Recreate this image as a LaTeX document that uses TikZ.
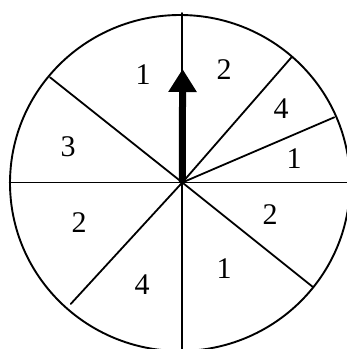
\documentclass[tikz,border=0pt]{standalone}
\usepackage{fontspec}
\setmainfont{Liberation Serif}
\usetikzlibrary{arrows.meta}
\begin{document}
\begin{tikzpicture}[x=1pt,y=-1pt,
  spoke/.style={line width=1.8pt,line cap=round},
  rim/.style={line width=1.9pt},
  num/.style={font=\fontsize{30}{30}\selectfont,inner sep=0pt},
  pointer/.style={line width=7pt,-{Triangle[width=27pt,length=23pt]}}]
\useasboundingbox (0,0) rectangle (347,349);
\clip (0,0) rectangle (347,349);
\fill[white] (0,0) rectangle (347,349);
\coordinate (c) at (182.3,182.5);
\coordinate (top) at (182.3,13);
\coordinate (bot) at (182.3,352);
\coordinate (lft) at (9.5,182.5);
\coordinate (rgt) at (352,182.5);
\coordinate (ura) at (292,56.7);
\coordinate (urb) at (334.3,117.3);
\coordinate (ul) at (50,77.3);
\coordinate (lr) at (313.3,287.3);
\coordinate (ll) at (70.7,304);
\coordinate (tip) at (182.6,69);
\draw[rim] (180,183) ellipse [x radius=170, y radius=168];
\foreach \e in {top,bot,lft,rgt,ura,urb,ul,lr,ll}
  \draw[spoke] (c) -- (\e);
\draw[pointer] (c) -- (tip);
\node[num] (n1) at (143,75) {1};
\node[num] (n2) at (224,70) {2};
\node[num] (n3) at (281,109) {4};
\node[num] (n4) at (294,159) {1};
\node[num] (n5) at (68,147) {3};
\node[num] (n6) at (79,223) {2};
\node[num] (n7) at (142,285) {4};
\node[num] (n8) at (224,269) {1};
\node[num] (n9) at (270,215) {2};
\end{tikzpicture}
\end{document}
